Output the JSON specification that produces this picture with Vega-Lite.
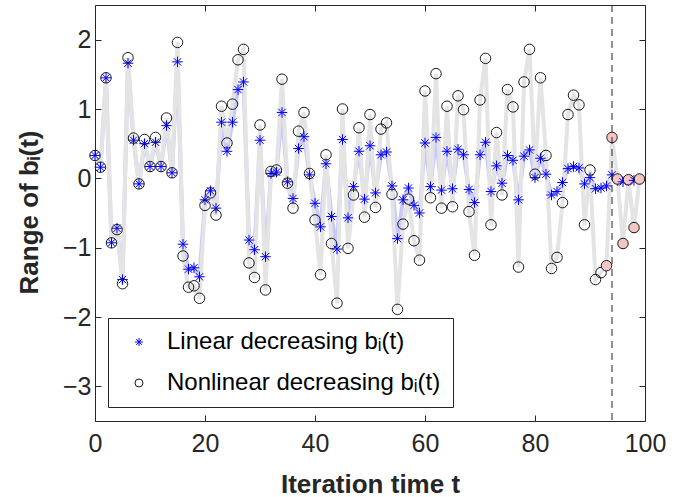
{
  "$schema": "https://vega.github.io/schema/vega-lite/v6.json",
  "width": 550,
  "height": 416,
  "autosize": {"type": "none"},
  "padding": {"left": 95, "top": 5, "right": 51, "bottom": 76},
  "background": "white",
  "config": {
    "font": "Liberation Sans",
    "view": {"stroke": "#262626", "strokeWidth": 1},
    "axis": {"grid": false, "domain": false, "labelFlush": false, "tickColor": "#262626", "labelColor": "#262626", "titleColor": "#262626", "labelFont": "Liberation Sans", "titleFont": "Liberation Sans"}
  },
  "datasets": {"pts": [
    {"t":0,"L":0.33,"N":0.33},{"t":1,"L":0.16,"N":0.16},{"t":2,"L":1.45,"N":1.45},{"t":3,"L":-0.93,"N":-0.93},{"t":4,"L":-0.72,"N":-0.74},
    {"t":5,"L":-1.46,"N":-1.52},{"t":6,"L":1.66,"N":1.74},{"t":7,"L":0.55,"N":0.58},{"t":8,"L":-0.08,"N":-0.08},{"t":9,"L":0.50,"N":0.56},
    {"t":10,"L":0.17,"N":0.17},{"t":11,"L":0.52,"N":0.59},{"t":12,"L":0.17,"N":0.17},{"t":13,"L":0.76,"N":0.87},{"t":14,"L":0.08,"N":0.08},
    {"t":15,"L":1.68,"N":1.96},{"t":16,"L":-0.95,"N":-1.12},{"t":17,"L":-1.31,"N":-1.57},{"t":18,"L":-1.29,"N":-1.55},{"t":19,"L":-1.42,"N":-1.73},
    {"t":20,"L":-0.31,"N":-0.39},{"t":21,"L":-0.18,"N":-0.21},{"t":22,"L":-0.43,"N":-0.53},{"t":23,"L":0.81,"N":1.04},{"t":24,"L":0.39,"N":0.51},
    {"t":25,"L":0.81,"N":1.07},{"t":26,"L":1.28,"N":1.71},{"t":27,"L":1.39,"N":1.86},{"t":28,"L":-0.89,"N":-1.22},{"t":29,"L":-1.03,"N":-1.43},
    {"t":30,"L":0.55,"N":0.77},{"t":31,"L":-1.13,"N":-1.61},{"t":32,"L":0.07,"N":0.10},{"t":33,"L":0.09,"N":0.12},{"t":34,"L":0.95,"N":1.43},
    {"t":35,"L":-0.05,"N":-0.07},{"t":36,"L":-0.29,"N":-0.43},{"t":37,"L":0.43,"N":0.68},{"t":38,"L":0.60,"N":0.95},{"t":39,"L":0.05,"N":0.07},
    {"t":40,"L":-0.36,"N":-0.60},{"t":41,"L":-0.70,"N":-1.39},{"t":42,"L":0.21,"N":0.34},{"t":43,"L":-0.55,"N":-0.94},{"t":44,"L":-1.02,"N":-1.80},
    {"t":45,"L":0.56,"N":1.00},{"t":46,"L":-0.57,"N":-1.01},{"t":47,"L":-0.12,"N":-0.24},{"t":48,"L":0.39,"N":0.73},{"t":49,"L":-0.30,"N":-0.56},
    {"t":50,"L":0.47,"N":0.92},{"t":51,"L":-0.21,"N":-0.42},{"t":52,"L":0.34,"N":0.71},{"t":53,"L":0.38,"N":0.80},{"t":54,"L":-0.11,"N":-0.23},
    {"t":55,"L":-0.87,"N":-1.89},{"t":56,"L":-0.31,"N":-0.66},{"t":57,"L":-0.14,"N":-0.30},{"t":58,"L":-0.39,"N":-0.90},{"t":59,"L":-0.50,"N":-1.18},
    {"t":60,"L":0.51,"N":1.26},{"t":61,"L":-0.12,"N":-0.28},{"t":62,"L":0.59,"N":1.51},{"t":63,"L":-0.17,"N":-0.43},{"t":64,"L":0.39,"N":1.04},
    {"t":65,"L":-0.15,"N":-0.41},{"t":66,"L":0.42,"N":1.19},{"t":67,"L":0.34,"N":0.99},{"t":68,"L":-0.16,"N":-0.48},{"t":69,"L":-0.35,"N":-1.11},
    {"t":70,"L":0.34,"N":1.13},{"t":71,"L":0.52,"N":1.73},{"t":72,"L":-0.19,"N":-0.67},{"t":73,"L":0.18,"N":0.66},{"t":74,"L":-0.07,"N":-0.24},
    {"t":75,"L":0.33,"N":1.28},{"t":76,"L":0.26,"N":1.03},{"t":77,"L":-0.31,"N":-1.28},{"t":78,"L":0.32,"N":1.39},{"t":79,"L":0.41,"N":1.86},
    {"t":80,"L":0.01,"N":0.06},{"t":81,"L":0.29,"N":1.45},{"t":82,"L":0.06,"N":0.33},{"t":83,"L":-0.24,"N":-1.30},{"t":84,"L":-0.19,"N":-1.14},
    {"t":85,"L":-0.06,"N":-0.35},{"t":86,"L":0.14,"N":0.92},{"t":87,"L":0.17,"N":1.20},{"t":88,"L":0.15,"N":1.06},{"t":89,"L":-0.08,"N":-0.67},
    {"t":90,"L":0.01,"N":0.12},{"t":91,"L":-0.15,"N":-1.46},{"t":92,"L":-0.14,"N":-1.36},{"t":93,"L":-0.11,"N":-1.26},{"t":94,"L":0.05,"N":0.59},
    {"t":95,"L":-0.03,"N":-0.01},{"t":96,"L":-0.05,"N":-0.94},{"t":97,"L":-0.03,"N":-0.02},{"t":98,"L":-0.03,"N":-0.71},{"t":99,"L":-0.01,"N":-0.01}
  ],
  "cut": [{"t": 94}]},
  "resolve": {"axis": {"x": "independent", "y": "independent"}},
  "layer": [
    {
      "data": {"name": "pts"},
      "transform": [{"fold": ["L", "N"], "as": ["s", "v"]}],
      "mark": {"type": "line", "strokeWidth": 4},
      "encoding": {
        "x": {"field": "t", "type": "quantitative", "scale": {"domain": [0, 100], "nice": false, "zero": false},
          "axis": {"orient": "bottom", "values": [0, 20, 40, 60, 80, 100], "tickSize": -6, "labelPadding": 16, "labelFontSize": 25,
            "title": "Iteration time t", "titleFontSize": 26, "titleFontWeight": "bold", "titleX": 275, "titleY": 71, "titleBaseline": "alphabetic", "titleAnchor": null, "titleAlign": "center"}},
        "y": {"field": "v", "type": "quantitative", "scale": {"domain": [-3.5, 2.5], "nice": false, "zero": false},
          "axis": {"orient": "left", "values": [-3, -2, -1, 0, 1, 2], "tickSize": -6, "labelPadding": 10, "labelFontSize": 25,
            "title": "Range of bᵢ(t)", "titleFontSize": 26, "titleFontWeight": "bold", "titleAngle": -90, "titleX": -58, "titleY": 207, "titleBaseline": "alphabetic", "titleAlign": "center", "titleAnchor": null}},
        "detail": {"field": "s"},
        "stroke": {"condition": {"test": "datum.s === 'L'", "value": "#c8c8ff"}, "value": "#e4e4e4"}
      }
    },
    {
      "data": {"name": "pts"},
      "transform": [{"fold": ["L", "N"], "as": ["s", "v"]}],
      "mark": {"type": "point", "filled": false, "strokeWidth": 1, "opacity": 1, "size": 110},
      "encoding": {
        "x": {"field": "t", "type": "quantitative", "scale": {"domain": [0, 100], "nice": false, "zero": false},
          "axis": {"orient": "top", "values": [0, 20, 40, 60, 80, 100], "labels": false, "title": null, "tickSize": -6}},
        "y": {"field": "v", "type": "quantitative", "scale": {"domain": [-3.5, 2.5], "nice": false, "zero": false},
          "axis": {"orient": "right", "values": [-3, -2, -1, 0, 1, 2], "labels": false, "title": null, "tickSize": -6}},
        "shape": {"field": "s", "type": "nominal",
          "scale": {"domain": ["L", "N"], "range": ["M0,-1L0,1M-1,0L1,0M-0.7,-0.7L0.7,0.7M-0.7,0.7L0.7,-0.7", "circle"]},
          "legend": {"orient": "none", "legendX": 13, "legendY": 313, "title": null, "padding": 12, "strokeColor": "#262626", "fillColor": "white",
            "symbolSize": 64, "symbolStrokeWidth": 1, "symbolOffset": 7, "labelOffset": 16, "labelFontSize": 24, "labelLimit": 500, "labelColor": "#000000", "labelFont": "Liberation Sans",
            "rowPadding": 17, "labelExpr": "datum.value == 'L' ? 'Linear decreasing bᵢ(t)' : 'Nonlinear decreasing bᵢ(t)'"}},
        "stroke": {"field": "s", "type": "nominal", "scale": {"domain": ["L", "N"], "range": ["#0000ff", "#1a1a1a"]},
          "legend": {"orient": "none", "legendX": 13, "legendY": 313, "title": null}},
        "fill": {"condition": {"test": "datum.s === 'N' && datum.t >= 93", "value": "#f6c6c6"}, "value": "transparent"}
      }
    },
    {
      "data": {"name": "cut"},
      "mark": {"type": "rule", "strokeDash": [7, 5], "strokeWidth": 1, "color": "#262626"},
      "encoding": {
        "x": {"field": "t", "type": "quantitative", "scale": {"domain": [0, 100], "nice": false, "zero": false}, "axis": null}
      }
    }
  ]
}
